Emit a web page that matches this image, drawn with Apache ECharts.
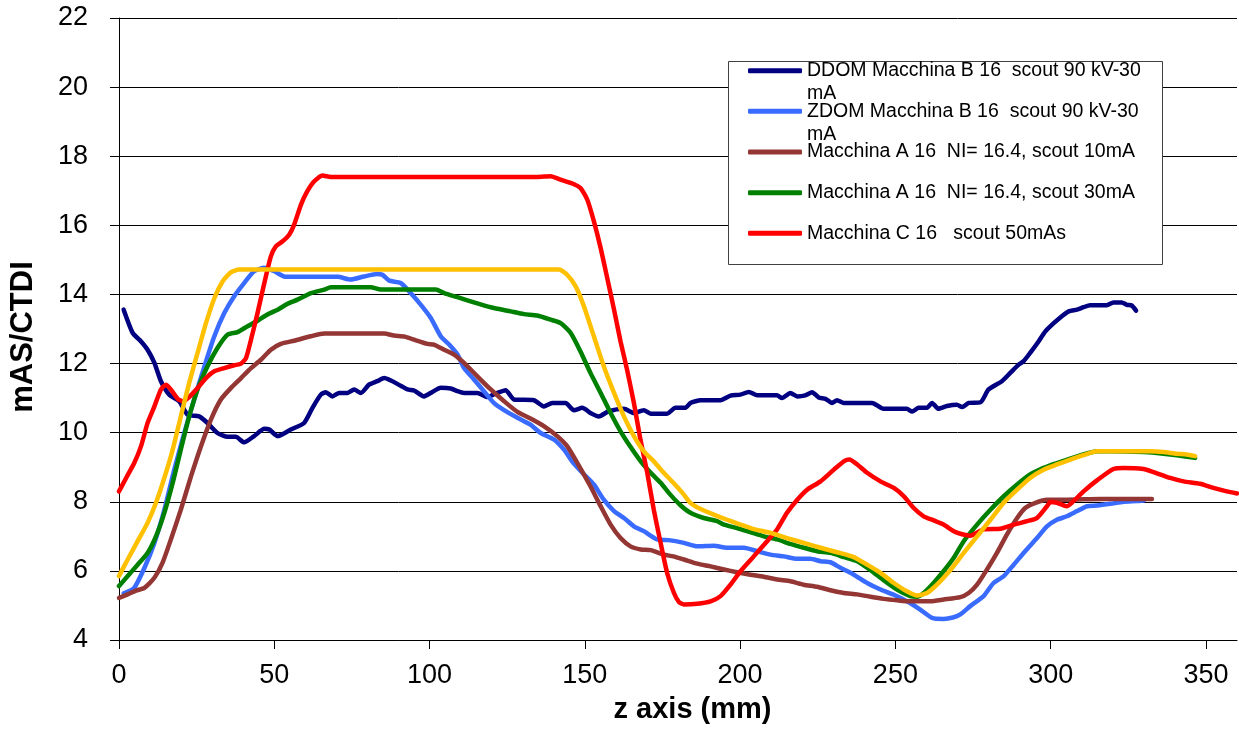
<!DOCTYPE html>
<html>
<head>
<meta charset="utf-8">
<script src="https://cdn.jsdelivr.net/npm/echarts@6/dist/echarts.min.js"></script>
<style>html,body{margin:0;padding:0;background:#fff}#c{width:1239px;height:730px}</style>
</head>
<body>
<div id="c"></div>
<script>
// ---------- DATA ----------
const xTickValues = [0, 50, 100, 150, 200, 250, 300, 350];
const yTickValues = [4, 6, 8, 10, 12, 14, 16, 18, 20, 22];

const seriesNames = [
  'DDOM Macchina B 16  scout 90 kV-30 mA',
  'ZDOM Macchina B 16  scout 90 kV-30 mA',
  'Macchina A 16  NI= 16.4, scout 10mA',
  'Macchina A 16  NI= 16.4, scout 30mA',
  'Macchina C 16   scout 50mAs',
  ''
];

const ddom = [[1.5,13.56],[4.4,12.89],[7.1,12.64],[9.2,12.40],[11.4,12.02],[13.5,11.49],[16.2,11.10],[19.4,10.91],[22.1,10.52],[25.8,10.47],[28.5,10.28],[31.7,9.99],[35.0,9.88],[37.6,9.88],[40.3,9.72],[43.5,9.90],[46.8,10.11],[48.4,10.09],[51.1,9.90],[55.3,10.09],[59.6,10.28],[62.3,10.72],[65.0,11.10],[66.6,11.17],[68.7,11.05],[70.9,11.15],[73.6,11.15],[75.7,11.25],[77.9,11.15],[80.5,11.39],[83.2,11.49],[85.4,11.58],[90.7,11.36],[92.9,11.25],[95.0,11.22],[98.2,11.05],[100.9,11.18],[103.6,11.30],[106.8,11.28],[109.0,11.20],[111.1,11.15],[115.4,11.15],[118.6,11.03],[121.8,11.15],[124.5,11.23],[127.2,10.96],[133.6,10.94],[136.8,10.76],[139.5,10.86],[143.8,10.86],[146.5,10.65],[149.2,10.72],[151.8,10.57],[154.5,10.47],[157.7,10.62],[162.6,10.69],[165.8,10.57],[169.0,10.65],[171.2,10.55],[176.5,10.55],[179.2,10.72],[182.4,10.72],[184.0,10.86],[187.3,10.94],[193.7,10.94],[196.9,11.07],[200.1,11.10],[202.8,11.18],[205.5,11.08],[211.9,11.08],[213.5,11.00],[216.2,11.15],[218.4,11.05],[221.0,11.08],[223.2,11.17],[225.3,11.02],[227.5,10.98],[229.6,10.86],[231.2,10.94],[233.4,10.86],[242.5,10.86],[246.2,10.69],[253.7,10.69],[255.4,10.61],[257.5,10.72],[260.2,10.72],[261.8,10.86],[263.9,10.69],[266.6,10.77],[269.8,10.81],[271.5,10.74],[273.6,10.86],[277.4,10.88],[280.0,11.25],[284.3,11.49],[287.0,11.73],[289.7,11.97],[291.3,12.07],[293.4,12.31],[296.1,12.64],[298.3,12.93],[300.9,13.16],[303.6,13.37],[305.8,13.51],[308.5,13.56],[310.6,13.63],[312.7,13.69],[318.1,13.69],[320.2,13.77],[322.9,13.77],[324.5,13.70],[326.1,13.68],[327.5,13.53]];

const zdom = [[1.5,5.35],[4.9,5.51],[8.2,6.09],[11.4,6.81],[14.6,7.77],[17.8,8.93],[21.0,9.99],[24.2,10.96],[27.5,11.92],[30.7,12.79],[33.9,13.46],[37.1,13.95],[40.3,14.33],[43.5,14.67],[46.8,14.77],[50.0,14.67],[53.7,14.51],[61.8,14.51],[70.4,14.51],[74.6,14.43],[78.9,14.52],[83.2,14.59],[84.8,14.57],[87.0,14.40],[90.7,14.33],[93.9,14.04],[97.2,13.70],[100.4,13.32],[103.6,12.79],[106.3,12.55],[109.0,12.26],[111.1,11.87],[114.3,11.54],[117.5,11.20],[120.7,10.86],[124.0,10.65],[128.3,10.43],[132.5,10.23],[135.8,9.99],[140.1,9.80],[143.3,9.51],[145.9,9.17],[149.2,8.84],[152.9,8.50],[156.1,8.06],[159.4,7.73],[162.6,7.53],[165.8,7.29],[169.0,7.15],[173.3,6.91],[177.0,6.89],[181.9,6.81],[186.2,6.71],[191.5,6.73],[195.8,6.67],[201.2,6.67],[205.5,6.57],[209.8,6.47],[214.1,6.42],[218.4,6.35],[222.6,6.35],[225.9,6.28],[229.1,6.25],[232.3,6.09],[236.6,5.89],[240.9,5.65],[245.2,5.46],[249.5,5.31],[253.7,5.12],[258.0,4.88],[261.8,4.64],[265.5,4.61],[268.5,4.65],[270.9,4.74],[274.1,4.98],[278.4,5.27],[281.6,5.65],[284.9,5.85],[288.1,6.18],[291.8,6.57],[295.6,6.95],[298.8,7.29],[302.0,7.48],[305.2,7.58],[308.5,7.73],[311.7,7.87],[314.9,7.89],[319.2,7.94],[323.5,8.00],[327.8,8.02],[330.0,8.04]];

const macchinaA10 = [[0,5.22],[2.8,5.32],[5.5,5.43],[8.2,5.51],[11.4,5.80],[14.0,6.23],[16.7,6.91],[19.9,7.77],[23.2,8.74],[26.4,9.61],[29.6,10.38],[32.8,10.96],[36.0,11.29],[39.3,11.58],[42.5,11.87],[45.7,12.11],[48.9,12.40],[52.1,12.57],[56.4,12.66],[61.8,12.79],[66.1,12.87],[74.6,12.87],[85.4,12.87],[88.5,12.81],[92.0,12.78],[95.0,12.69],[99.3,12.57],[101.4,12.55],[104.7,12.40],[107.9,12.26],[111.1,12.02],[115.4,11.63],[119.7,11.25],[124.0,10.91],[128.3,10.60],[132.5,10.41],[136.8,10.19],[141.1,9.90],[144.3,9.61],[147.6,9.12],[151.8,8.45],[155.1,7.87],[158.3,7.34],[161.5,6.95],[164.7,6.71],[168.0,6.62],[171.2,6.60],[175.4,6.47],[178.5,6.42],[181.9,6.33],[186.2,6.21],[190.5,6.13],[194.8,6.04],[199.0,5.96],[203.3,5.89],[207.6,5.83],[211.9,5.75],[216.2,5.70],[220.5,5.60],[224.8,5.54],[229.1,5.44],[233.4,5.36],[237.7,5.32],[242.0,5.25],[246.2,5.19],[250.5,5.15],[254.8,5.12],[261.3,5.12],[265.5,5.17],[270.9,5.24],[273.6,5.36],[276.3,5.60],[279.5,6.04],[282.7,6.52],[285.9,7.05],[289.2,7.53],[291.8,7.82],[295.1,7.97],[298.8,8.06],[305.2,8.06],[316.0,8.08],[326.7,8.08],[332.6,8.08]];

const macchinaA30 = [[0,5.56],[2.8,5.85],[6.0,6.18],[9.2,6.52],[11.9,7.00],[14.6,7.68],[17.3,8.55],[19.9,9.51],[22.6,10.47],[25.3,11.25],[28.5,11.92],[31.7,12.45],[35.0,12.84],[38.2,12.91],[41.4,13.08],[44.6,13.24],[47.8,13.42],[51.1,13.56],[54.3,13.73],[57.5,13.85],[61.8,14.04],[66.1,14.14],[68.2,14.21],[81.1,14.21],[84.3,14.14],[102.0,14.14],[104.7,14.04],[109.0,13.92],[114.3,13.77],[119.7,13.63],[126.1,13.51],[130.4,13.43],[134.7,13.39],[139.0,13.27],[142.2,13.17],[145.4,12.89],[148.6,12.35],[151.8,11.73],[155.1,11.15],[158.3,10.57],[161.5,10.04],[164.7,9.59],[168.0,9.17],[171.2,8.84],[174.4,8.55],[177.6,8.20],[180.8,7.90],[184.0,7.68],[188.3,7.53],[192.6,7.44],[194.8,7.34],[199.0,7.24],[203.3,7.12],[207.6,7.00],[211.9,6.91],[216.2,6.78],[220.5,6.67],[224.8,6.57],[229.1,6.52],[233.4,6.40],[237.7,6.28],[242.0,6.02],[246.2,5.73],[250.5,5.46],[254.8,5.27],[257.0,5.25],[259.1,5.36],[262.3,5.65],[265.5,5.99],[268.8,6.38],[272.0,6.86],[276.3,7.34],[280.6,7.77],[284.9,8.16],[289.2,8.50],[293.4,8.79],[297.7,8.98],[302.0,9.12],[306.3,9.25],[310.6,9.37],[314.9,9.46],[319.2,9.46],[329.9,9.44],[334.2,9.41],[338.5,9.37],[342.8,9.32],[346.5,9.27]];

const macchinaC = [[0,8.30],[2.3,8.69],[4.9,9.12],[7.1,9.61],[9.2,10.28],[11.4,10.76],[13.5,11.25],[15.1,11.39],[16.7,11.25],[18.9,10.98],[20.5,10.91],[22.6,11.03],[25.3,11.29],[28.0,11.58],[30.7,11.78],[33.9,11.87],[37.1,11.95],[39.3,12.00],[40.9,12.16],[42.5,12.69],[44.6,13.46],[46.8,14.33],[48.9,15.10],[50.5,15.39],[52.7,15.54],[54.8,15.73],[56.4,16.02],[58.6,16.60],[60.6,16.98],[62.8,17.27],[65.5,17.44],[68.2,17.40],[90.0,17.40],[134.7,17.40],[139.0,17.42],[142.2,17.32],[146.0,17.21],[148.6,17.08],[150.8,16.74],[152.9,16.12],[155.1,15.34],[157.2,14.48],[159.4,13.56],[161.5,12.64],[163.6,11.82],[165.8,10.86],[167.9,9.80],[170.1,8.84],[172.2,7.77],[174.4,6.81],[176.5,5.94],[178.7,5.36],[180.3,5.10],[181.9,5.03],[186.2,5.05],[190.5,5.12],[193.7,5.27],[196.9,5.60],[200.1,5.99],[204.4,6.42],[208.7,6.86],[211.9,7.20],[215.1,7.68],[218.4,8.06],[221.6,8.35],[225.9,8.59],[230.2,8.93],[233.4,9.17],[235.2,9.22],[237.7,9.08],[240.9,8.84],[245.2,8.59],[249.5,8.40],[252.7,8.16],[255.9,7.82],[259.1,7.58],[262.3,7.46],[265.5,7.34],[268.8,7.15],[271.5,7.06],[274.1,7.02],[278.4,7.20],[283.8,7.22],[288.1,7.34],[293.4,7.46],[295.6,7.53],[298.8,7.87],[299.9,7.99],[302.0,7.97],[305.2,7.87],[306.8,7.97],[310.6,8.30],[314.9,8.62],[320.2,8.95],[323.5,8.98],[329.9,8.95],[333.1,8.86],[338.5,8.69],[342.8,8.59],[348.1,8.52],[352.4,8.40],[356.7,8.30],[360.0,8.24]];

const unlabeled = [[0,5.85],[2.8,6.33],[6.0,6.86],[9.2,7.39],[11.9,7.97],[14.6,8.69],[17.3,9.51],[19.9,10.47],[22.6,11.44],[25.3,12.31],[28.0,13.17],[30.7,13.89],[33.4,14.38],[36.0,14.64],[38.7,14.72],[141.7,14.72],[144.3,14.57],[147.0,14.24],[149.7,13.66],[152.9,12.79],[156.1,11.92],[159.4,11.15],[162.6,10.47],[165.8,9.90],[169.0,9.46],[172.2,9.17],[175.4,8.84],[178.5,8.55],[181.5,8.25],[184.0,7.97],[187.3,7.79],[191.5,7.63],[195.8,7.48],[200.1,7.34],[204.4,7.21],[209.8,7.10],[215.1,6.95],[220.5,6.81],[225.9,6.67],[231.2,6.54],[236.6,6.40],[240.9,6.18],[245.2,5.94],[249.5,5.65],[253.7,5.41],[257.0,5.29],[260.2,5.36],[263.4,5.60],[267.5,6.00],[272.0,6.52],[276.3,7.00],[280.6,7.48],[284.9,7.97],[289.2,8.35],[293.4,8.69],[297.7,8.93],[302.0,9.08],[306.3,9.22],[310.6,9.35],[314.9,9.46],[332.1,9.46],[336.3,9.44],[340.6,9.39],[343.8,9.37],[346.5,9.32]];

const seriesValues = [ddom, zdom, macchinaA10, macchinaA30, macchinaC, unlabeled];
const seriesColors = ['#000080', '#3A6BFF', '#943634', '#008000', '#FF0000', '#FFC000'];

// ---------- CHART ----------
const FONT = '"Liberation Sans", Arial, sans-serif';
const chart = echarts.init(document.getElementById('c'), null, {renderer: 'canvas'});

const legendCenters = [70.7, 111.3, 152, 192.7, 233.3];
const LH = 23;
const legends = seriesNames.slice(0, 5).map((name, i) => {
  const twoLine = name.indexOf('kV-30 mA') >= 0;
  return {
    data: [name],
    orient: 'vertical',
    left: 748,
    top: legendCenters[i] - (twoLine ? LH * 1.5 : LH / 2),
    padding: 0,
    itemWidth: 54,
    itemHeight: 5,
    icon: 'roundRect',
    selectedMode: false,
    z: 20,
    // wrapped names: an empty first line keeps the first text line level with the icon
    formatter: n => n.indexOf('kV-30 mA') >= 0 ? '\u00a0\n' + n.replace('kV-30 mA', 'kV-30\nmA') : n,
    textStyle: {
      fontFamily: FONT,
      fontSize: 19.5,
      color: '#000',
      lineHeight: LH
    }
  };
});

const option = {
  animation: false,
  backgroundColor: '#fff',
  textStyle: {fontFamily: FONT},
  grid: {left: 118, right: 2, top: 18, bottom: 90, containLabel: false},
  legend: legends,
  graphic: [{
    type: 'rect',
    z: 10,
    shape: {x: 728.5, y: 61.5, width: 434, height: 203},
    style: {fill: '#fff', stroke: '#404040', lineWidth: 1}
  }],
  xAxis: {
    type: 'value',
    min: 0, max: 360, interval: 50,
    axisLine: {show: true, lineStyle: {color: '#000', width: 1}},
    axisTick: {show: true, length: 9, customValues: xTickValues, lineStyle: {color: '#000'}},
    axisLabel: {customValues: xTickValues, fontSize: 27, color: '#000', fontFamily: FONT, margin: 22},
    splitLine: {show: false},
    name: 'z axis (mm)',
    nameLocation: 'middle',
    nameGap: 55,
    nameTextStyle: {fontSize: 29, fontWeight: 'bold', color: '#000', fontFamily: FONT, padding: [0, 0, 0, 29]}
  },
  yAxis: {
    type: 'value',
    min: 4, max: 22, interval: 2,
    axisLine: {show: true, lineStyle: {color: '#000', width: 1}},
    axisTick: {show: true, length: 9, lineStyle: {color: '#000'}},
    axisLabel: {fontSize: 27, color: '#000', fontFamily: FONT, margin: 31,
      formatter: v => yTickValues.indexOf(v) >= 0 ? String(v) : ''},
    splitLine: {show: true, lineStyle: {color: '#000', width: 1}},
    name: 'mAS/CTDI',
    nameLocation: 'middle',
    nameGap: 80,
    nameTextStyle: {fontSize: 31, fontWeight: 'bold', color: '#000', fontFamily: FONT, padding: [0, 16, 0, 0]}
  },
  series: seriesValues.map((vals, i) => ({
    name: seriesNames[i],
    type: 'line',
    data: vals,
    showSymbol: false,
    symbol: 'none',
    smooth: 0.2,
    z: 2 + i,
    color: seriesColors[i],
    lineStyle: {width: 4.5, color: seriesColors[i], cap: 'round', join: 'round'}
  }))
};
chart.setOption(option);
</script>
</body>
</html>
